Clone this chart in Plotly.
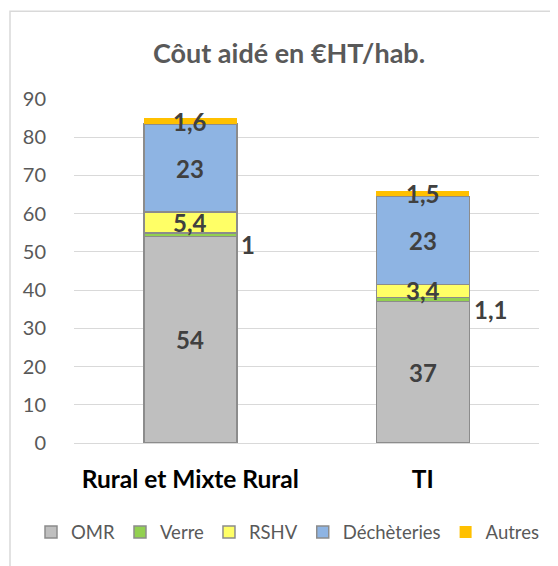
import plotly.graph_objects as go

# ---- data ----
categories = ["Rural et Mixte Rural", "TI"]
series_names = ["OMR", "Verre", "RSHV", "Déchèteries", "Autres"]
omr = [54, 37]
verre = [1, 1.1]
rshv = [5.4, 3.4]
decheteries = [23, 23]
autres = [1.6, 1.5]
y_tick_vals = [0, 10, 20, 30, 40, 50, 60, 70, 80, 90]
title_text = "Côut aidé en €HT/hab."

series_values = [omr, verre, rshv, decheteries, autres]

# ---- styles ----
FONT = "Lato"
fill_colors = ["#BFBFBF", "#92D050", "#FFFF66", "#8EB4E3", "#FFC000"]
line_widths = [1.5, 1.5, 1.5, 1.5, 0]
outline = "#8C8C8C"
label_color = "#404040"
outside_series = "Verre"  # labels drawn beside the bar

# page body has an 8px margin -> figure drawn at (8, 8)
OFF = 8
W, H = 558 - OFF, 566 - OFF


def fmt(v):
    return f"{v:g}".replace(".", ",")


fig = go.Figure()
for name, vals, col, lw in zip(series_names, series_values, fill_colors, line_widths):
    fig.add_trace(go.Bar(
        name=name, x=categories, y=vals,
        marker=dict(color=col, line=dict(color=outline, width=lw)),
        hoverinfo="skip",
    ))

annotations = []
base = [0.0] * len(categories)
for name, vals in zip(series_names, series_values):
    for i, (cat, v) in enumerate(zip(categories, vals)):
        mid = base[i] + v / 2
        if name == outside_series:
            annotations.append(dict(
                x=cat, y=mid, xref="x", yref="y", text=fmt(v), showarrow=False,
                xanchor="left", yanchor="middle", xshift=49, yshift=-10,
                font=dict(family=FONT, size=24, color=label_color, weight="bold"),
            ))
        else:
            annotations.append(dict(
                x=cat, y=mid, xref="x", yref="y", text=fmt(v), showarrow=False,
                xanchor="center", yanchor="middle",
                font=dict(family=FONT, size=24, color=label_color, weight="bold"),
            ))
        base[i] += v

L, T = 74 - OFF, 99 - OFF
plot_right, plot_bottom = 539 - OFF, 443.5 - OFF
R, B = W - plot_right, H - plot_bottom
pw, ph = plot_right - L, plot_bottom - T

fig.update_layout(
    width=W, height=H,
    margin=dict(l=L, r=R, t=T, b=B, autoexpand=False),
    barmode="stack",
    bargap=0.6,
    paper_bgcolor="white",
    plot_bgcolor="white",
    title=dict(
        text=title_text, x=(289 - OFF) / W, xanchor="center",
        y=1 - (54 - OFF) / H, yanchor="middle",
        font=dict(family=FONT, size=27, color="#595959", weight="bold"),
    ),
    xaxis=dict(
        showgrid=False, zeroline=False, showline=False, ticks="",
        tickfont=dict(family=FONT, size=24.5, color="#000000", weight="bold"),
        ticklabelstandoff=19,
    ),
    yaxis=dict(
        range=[0, 90], tickvals=y_tick_vals, showgrid=True, gridcolor="#D9D9D9",
        gridwidth=1.3, zeroline=True, zerolinecolor="#D9D9D9", zerolinewidth=1.3,
        showline=False, ticks="",
        tickfont=dict(family=FONT, size=20, color="#595959"),
        ticklabelstandoff=27,
    ),
    legend=dict(
        orientation="h", x=(31 - OFF - L) / pw, xanchor="left",
        y=(plot_bottom - (533 - OFF)) / ph, yanchor="middle",
        font=dict(family=FONT, size=18.5, color="#595959"),
        traceorder="normal", itemwidth=30,
    ),
    annotations=annotations,
    showlegend=True,
)

# chart-area border (light grey, partly outside the picture)
fig.add_shape(
    type="rect", xref="paper", yref="paper",
    x0=(10 - OFF - L) / pw, x1=(W + 20 - L) / pw,
    y0=(plot_bottom - (H + 20)) / ph, y1=(plot_bottom - (11 - OFF)) / ph,
    line=dict(color="#D9D9D9", width=1.5), fillcolor="rgba(0,0,0,0)", layer="below",
)

fig.write_html("out.html")
